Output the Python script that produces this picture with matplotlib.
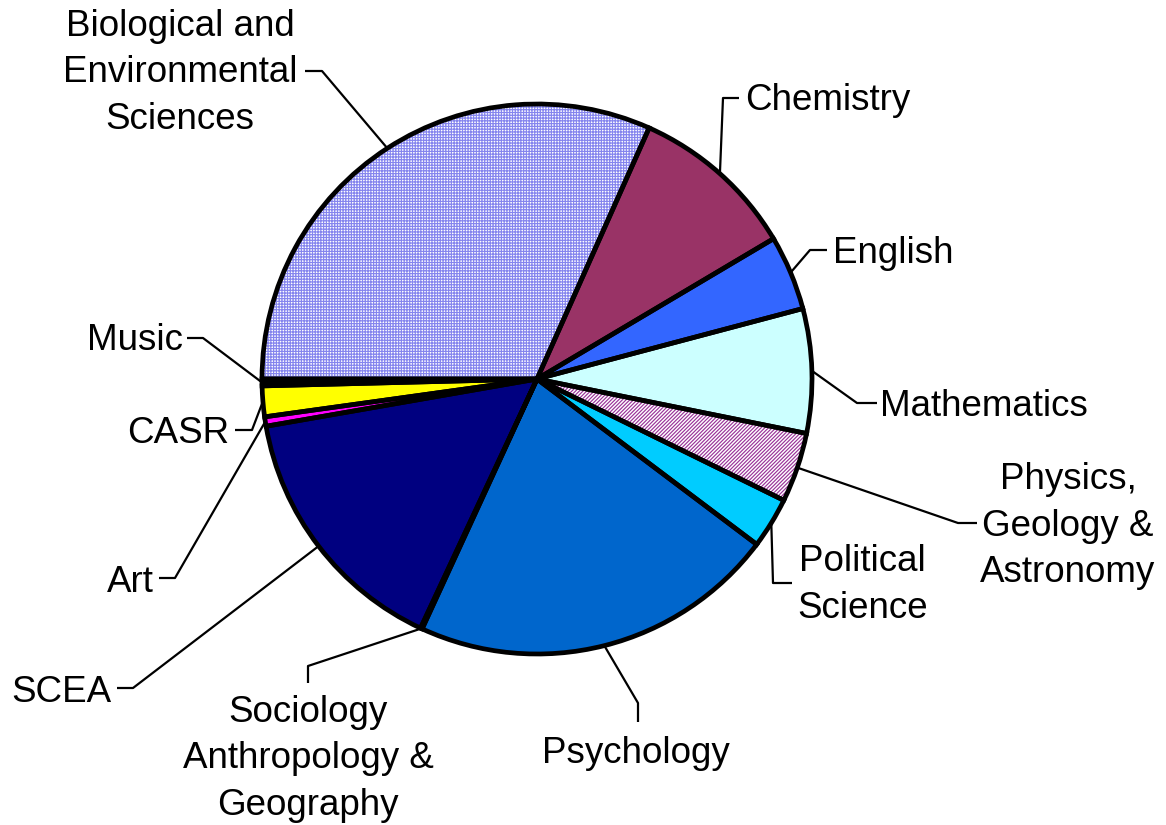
import numpy as np
import matplotlib
matplotlib.use("Agg")
import matplotlib.pyplot as plt

# data (share of the pie, %), clockwise from 9 o'clock
departments = ["Biological and\nEnvironmental\nSciences", "Chemistry", "English", "Mathematics",
               "Physics,\nGeology &\nAstronomy", "Political\nScience", "Psychology",
               "Sociology\nAnthropology &\nGeography", "SCEA", "Art", "CASR", "Music"]
shares = [31.7, 9.8, 4.4, 7.3, 4.1, 3.0, 21.6, 0.1, 15.3, 0.55, 1.8, 0.4]
colors = ["#ffffff", "#993366", "#3366ff", "#ccffff", "#ffffff", "#00ccff", "#0066cc",
          "#ccccff", "#000080", "#ff00ff", "#ffff00", "#000000"]
hatches = {0: ("++++++", "#8585ee"), 4: ("/////////", "#993399")}

W, H = 1166, 825
plt.rcParams['font.family'] = ['Liberation Sans', 'DejaVu Sans']
plt.rcParams['hatch.linewidth'] = 0.85

fig = plt.figure(figsize=(W / 100, H / 100), dpi=100)
ax = fig.add_axes([0, 0, 1, 1])

cx, cy, r = 537, H - 379, 275

# fills
wedges, _ = ax.pie(shares, colors=colors, startangle=180, counterclock=False,
                   center=(cx, cy), radius=r, wedgeprops=dict(linewidth=0))
for i, (h, hc) in hatches.items():
    wedges[i].set_hatch(h)
    wedges[i].set_edgecolor(hc)
    wedges[i].set_linewidth(0)
# black outlines on top
ax.pie(shares, startangle=180, counterclock=False, center=(cx, cy), radius=r,
       wedgeprops=dict(fill=False, edgecolor='black', linewidth=3.4))

# label layout in pixel coords (y downwards): text pos, ha, va, leader start, elbow
layout = [
    ((180, 73), 'center', 'center', (305, 71), (322, 71)),
    ((745, 110), 'left', 'baseline', (739, 98), (723, 98)),
    ((833, 263), 'left', 'baseline', (827, 250), (810, 250)),
    ((880, 416), 'left', 'baseline', (877, 403), (857, 403)),
    ((1068, 526), 'center', 'center', (977, 523), (958, 523)),
    ((797, 585), 'left', 'center', (792, 583), (773, 583)),
    ((636, 763), 'center', 'baseline', (638, 722), (638, 703)),
    ((308, 759), 'center', 'center', (308, 683), (308, 666)),
    ((111, 702), 'right', 'baseline', (117, 688), (133, 688)),
    ((154, 592), 'right', 'baseline', (159, 578), (175, 578)),
    ((229, 443), 'right', 'baseline', (235, 430), (252, 430)),
    ((183, 350), 'right', 'baseline', (187, 338), (203, 338)),
]

for w, name, (tp, ha, va, p0, p1) in zip(wedges, departments, layout):
    mid = np.deg2rad((w.theta1 + w.theta2) / 2)
    ax_, ay_ = cx + r * np.cos(mid), cy + r * np.sin(mid)
    ax.plot([p0[0], p1[0], ax_], [H - p0[1], H - p1[1], ay_], color='black', lw=1.6,
            solid_capstyle='butt', zorder=1)
    ax.text(tp[0], H - tp[1], name, ha=ha, va=va, fontsize=26.5, linespacing=1.41,
            multialignment='center')

ax.set_xlim(0, W)
ax.set_ylim(0, H)
ax.set_aspect('equal')
ax.axis('off')
fig.savefig("out.png", dpi=100, facecolor='white')
